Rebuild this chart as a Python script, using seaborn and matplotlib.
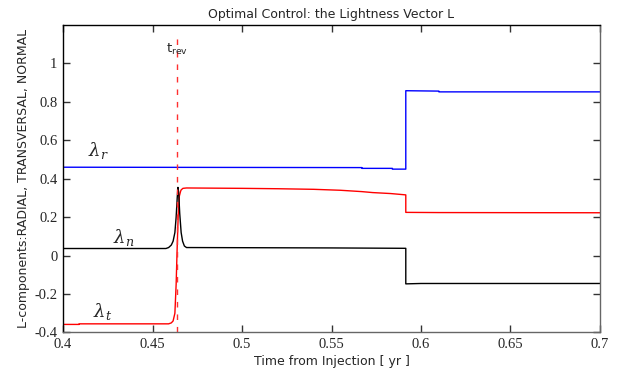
import matplotlib
matplotlib.use("Agg")
import matplotlib.pyplot as plt
import seaborn as sns
import pandas as pd

# ---- data ----
blue_x = [0.4, 0.567, 0.567, 0.584, 0.584, 0.5915, 0.5915, 0.61, 0.61, 0.7]
blue_y = [0.46, 0.458, 0.454, 0.454, 0.450, 0.450, 0.858, 0.856, 0.852, 0.852]

red_x = [0.4, 0.409, 0.409, 0.459, 0.4605, 0.4615, 0.4625, 0.4632, 0.4638, 0.4644,
         0.465, 0.4657, 0.466, 0.467, 0.469, 0.50, 0.52, 0.54, 0.555, 0.567, 0.573,
         0.583, 0.5915, 0.5915, 0.61, 0.7]
red_y = [-0.358, -0.358, -0.355, -0.355, -0.35, -0.34, -0.3, -0.15, 0.05, 0.22,
         0.31, 0.335, 0.342, 0.35, 0.352, 0.350, 0.348, 0.345, 0.34, 0.333, 0.328,
         0.323, 0.316, 0.225, 0.224, 0.223]

black_x = [0.4, 0.4575, 0.459, 0.4605, 0.4615, 0.4625, 0.4632, 0.4638, 0.4642,
           0.4646, 0.4652, 0.4660, 0.4668, 0.4678, 0.469, 0.55, 0.5915, 0.5915,
           0.60, 0.7]
black_y = [0.037, 0.037, 0.042, 0.055, 0.075, 0.12, 0.2, 0.3, 0.355,
           0.33, 0.22, 0.12, 0.075, 0.05, 0.042, 0.040, 0.038, -0.147,
           -0.145, -0.145]

t_rev = 0.4637
x_ticks = [0.4, 0.45, 0.5, 0.55, 0.6, 0.65, 0.7]
x_tick_labels = ["0.4", "0.45", "0.5", "0.55", "0.6", "0.65", "0.7"]
y_ticks = [-0.4, -0.2, 0, 0.2, 0.4, 0.6, 0.8, 1]
y_tick_labels = ["-0.4", "-0.2", "0", "0.2", "0.4", "0.6", "0.8", "1"]

sns.set_style("white")
plt.rcParams['font.family'] = ['DejaVu Sans']
plt.rcParams['mathtext.fontset'] = 'dejavuserif'

fig = plt.figure(figsize=(6.19, 3.73), dpi=100)
ax = fig.add_axes([0.1018, 0.1086, 0.8675, 0.8244])

df_b = pd.DataFrame({"x": blue_x, "y": blue_y})
df_r = pd.DataFrame({"x": red_x, "y": red_y})
df_k = pd.DataFrame({"x": black_x, "y": black_y})

sns.lineplot(data=df_b, x="x", y="y", ax=ax, color="#0000ff", lw=1.0,
             sort=False, estimator=None)
sns.lineplot(data=df_r, x="x", y="y", ax=ax, color="#ff0000", lw=1.0,
             sort=False, estimator=None)
sns.lineplot(data=df_k, x="x", y="y", ax=ax, color="black", lw=1.0,
             sort=False, estimator=None)

ax.axvline(t_rev, ymin=0, ymax=0.974, color="#ff3030", lw=1.0,
           dashes=(4, 5))

ax.set_xlim(0.4, 0.7)
ax.set_ylim(-0.4, 1.2)
ax.set_xticks(x_ticks)
ax.set_xticklabels(x_tick_labels, family="Liberation Serif", fontsize=10.5)
ax.set_yticks(y_ticks)
ax.set_yticklabels(y_tick_labels, family="Liberation Serif", fontsize=10.5)
ax.tick_params(direction="in", length=5, width=1, top=True, right=True,
               bottom=True, left=True, color="#333333", pad=4)

ax.set_title("Optimal Control: the Lightness Vector L", fontsize=9, pad=5)
ax.set_xlabel("Time from Injection [ yr ]", fontsize=9, labelpad=3)
ax.set_ylabel("L-components:RADIAL, TRANSVERSAL, NORMAL", fontsize=9, labelpad=3)

for s in ["left", "top"]:
    ax.spines[s].set_color("black")
for s in ["right", "bottom"]:
    ax.spines[s].set_color("#666666")
for s in ax.spines.values():
    s.set_linewidth(1.0)

ax.text(0.414, 0.545, r"$\lambda_r$", fontsize=13, ha="left", va="center")
ax.text(0.428, 0.092, r"$\lambda_n$", fontsize=13, ha="left", va="center")
ax.text(0.417, -0.29, r"$\lambda_t$", fontsize=13, ha="left", va="center")
ax.text(t_rev, 1.075, r"t$_{\mathregular{rev}}$", fontsize=9.5, ha="center",
        va="center")

fig.savefig("out.png", dpi=100)
